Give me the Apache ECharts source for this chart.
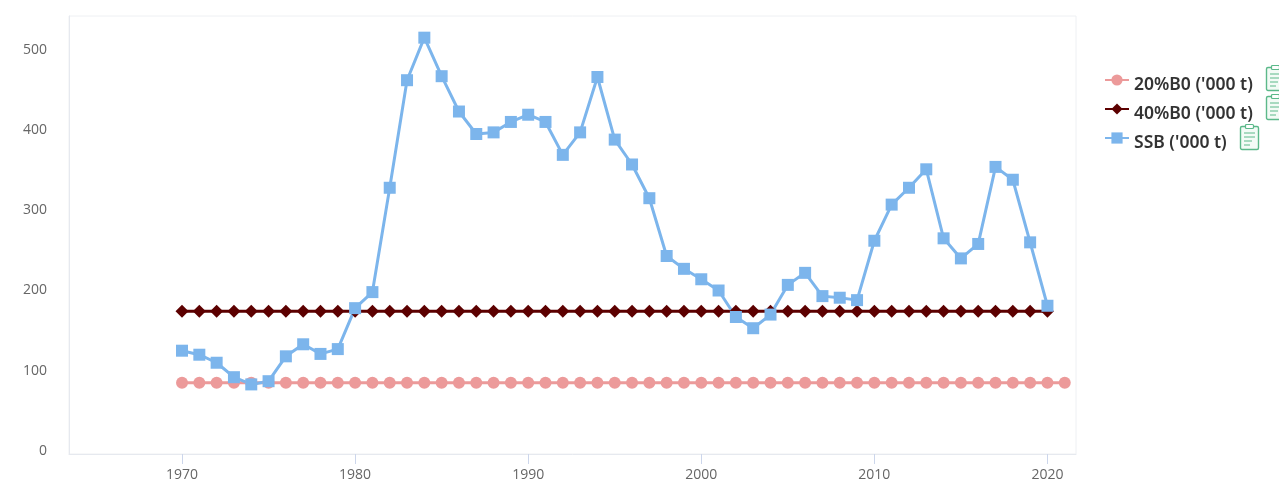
<!DOCTYPE html>
<html>
<head>
<meta charset="utf-8">
<style>html,body{margin:0;padding:0;background:#fff;overflow:hidden}#c{width:1279px;height:479px}</style>
<script src="https://cdn.jsdelivr.net/npm/echarts@6/dist/echarts.min.js"></script>
</head>
<body>
<div id="c"></div>
<script>
const years = [1970,1971,1972,1973,1974,1975,1976,1977,1978,1979,1980,1981,1982,1983,1984,1985,1986,1987,1988,1989,1990,1991,1992,1993,1994,1995,1996,1997,1998,1999,2000,2001,2002,2003,2004,2005,2006,2007,2008,2009,2010,2011,2012,2013,2014,2015,2016,2017,2018,2019,2020];
const ssb = [125,120,110,92,83,87,118,133,121,127,178,198,328,462,515,467,423,395,397,410,419,410,369,397,466,388,357,315,243,227,214,200,167,153,170,207,222,193,191,188,262,307,328,351,265,240,258,354,338,260,181];
const blim40 = [174,174,174,174,174,174,174,174,174,174,174,174,174,174,174,174,174,174,174,174,174,174,174,174,174,174,174,174,174,174,174,174,174,174,174,174,174,174,174,174,174,174,174,174,174,174,174,174,174,174,174];
const yearsLim20 = [1970,1971,1972,1973,1974,1975,1976,1977,1978,1979,1980,1981,1982,1983,1984,1985,1986,1987,1988,1989,1990,1991,1992,1993,1994,1995,1996,1997,1998,1999,2000,2001,2002,2003,2004,2005,2006,2007,2008,2009,2010,2011,2012,2013,2014,2015,2016,2017,2018,2019,2020,2021];
const blim20 = [85,85,85,85,85,85,85,85,85,85,85,85,85,85,85,85,85,85,85,85,85,85,85,85,85,85,85,85,85,85,85,85,85,85,85,85,85,85,85,85,85,85,85,85,85,85,85,85,85,85,85,85];
const xTicks = [1970,1980,1990,2000,2010,2020];
const yTicks = [0,100,200,300,400,500];
const names = ["20%B0 ('000 t)","40%B0 ('000 t)","SSB ('000 t)"];

const zip = (a,b) => a.map((v,i)=>[v,b[i]]);
function clip(x,y){
  const g='#5cb98a';
  return {type:'group',x:x,y:y,silent:true,children:[
    {type:'rect',shape:{x:0.5,y:2.5,width:18,height:23,r:1.5},style:{fill:'#f3fbf6',stroke:g,lineWidth:1.4}},
    {type:'rect',shape:{x:5.5,y:0.5,width:8,height:4,r:1},style:{fill:'#fff',stroke:g,lineWidth:1.2}},
    {type:'line',shape:{x1:4,y1:9,x2:15,y2:9},style:{stroke:g,lineWidth:1}},
    {type:'line',shape:{x1:4,y1:13,x2:15,y2:13},style:{stroke:g,lineWidth:1}},
    {type:'line',shape:{x1:4,y1:17,x2:12,y2:17},style:{stroke:g,lineWidth:1}},
    {type:'line',shape:{x1:4,y1:21,x2:10,y2:21},style:{stroke:g,lineWidth:1}}
  ]};
}
const chart = echarts.init(document.getElementById('c'),null,{renderer:'canvas'});
chart.setOption({
  animation:false,
  backgroundColor:'#fff',
  grid:{left:69,right:203,top:16,bottom:25,outerBoundsMode:'none',show:true,borderColor:'#eef0f3',borderWidth:1,backgroundColor:'#fff'},
  legend:{
    orient:'vertical',left:1104,top:65.5,padding:0,itemWidth:24,itemHeight:14,itemGap:0,
    data:names,
    formatter:n=>'{t|'+n+'}',
    textStyle:{rich:{t:{fontFamily:'"Noto Sans",sans-serif',fontSize:17.5,fontWeight:600,color:'#333',height:19,lineHeight:19,padding:[10,0,0,0]}}}
  },
  xAxis:{
    type:'value',min:1963.47,max:2021.65,
    splitLine:{show:false},
    axisLine:{show:true,onZero:false,lineStyle:{color:'#e6e9ef',width:1}},
    axisTick:{show:true,length:10,customValues:xTicks,lineStyle:{color:'#ccd6eb'}},
    axisLabel:{customValues:xTicks,formatter:v=>String(v),color:'#666',fontFamily:'"Open Sans",sans-serif',fontSize:14,margin:14}
  },
  yAxis:{
    type:'value',min:-3.7,max:542,
    splitLine:{show:false},
    axisLine:{show:true,onZero:false,lineStyle:{color:'#e6e9ef',width:1}},
    axisTick:{show:false},
    axisLabel:{customValues:yTicks,color:'#666',fontFamily:'"Open Sans",sans-serif',fontSize:14,margin:22}
  },
  series:[
    {name:names[0],type:'line',data:zip(yearsLim20,blim20),symbol:'circle',symbolSize:12,itemStyle:{color:'#ec9a9a'},lineStyle:{width:3,color:'#ec9a9a'}},
    {name:names[1],type:'line',data:zip(years,blim40),symbol:'diamond',symbolSize:13,itemStyle:{color:'#5c0000'},lineStyle:{width:3,color:'#5c0000'}},
    {name:names[2],type:'line',data:zip(years,ssb),symbol:'rect',symbolSize:12,itemStyle:{color:'#7cb5ec'},lineStyle:{width:3,color:'#7cb5ec'}}
  ],
  graphic:[clip(1266,65),clip(1266,94),clip(1240,124)]
});
</script>
</body>
</html>
